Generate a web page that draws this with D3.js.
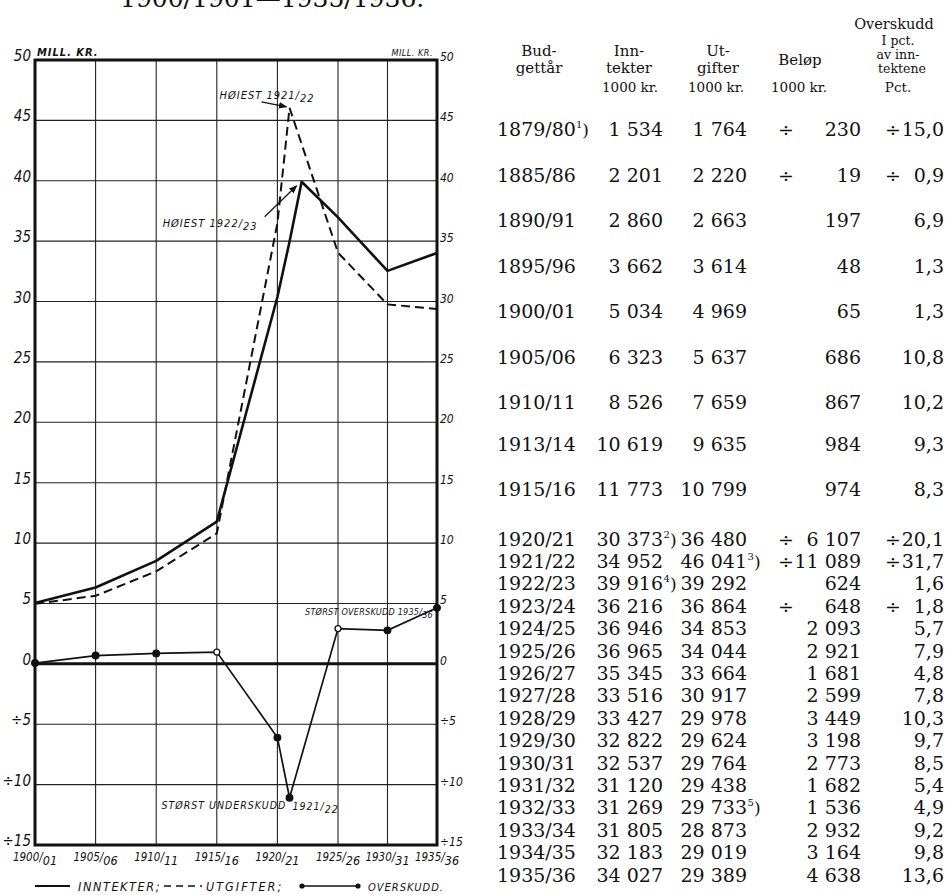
<!DOCTYPE html>
<html>
<head>
<meta charset="utf-8">
<script src="https://cdn.jsdelivr.net/npm/d3@7"></script>
<style>
  body { margin: 0; background: #fff; }
  svg { display: block; }
  .hand { font-family: "DejaVu Sans Condensed", "Liberation Sans Narrow", "DejaVu Sans", sans-serif; font-style: italic; fill: #111; }
  .tab { font-family: "DejaVu Serif", "Liberation Serif", serif; fill: #111; }
</style>
</head>
<body>
<svg id="chart" width="946" height="895"></svg>
<script>
// ---- table data (1000 kr.) ----
const budgetYears = ['1879/80', '1885/86', '1890/91', '1895/96', '1900/01', '1905/06', '1910/11', '1913/14',
  '1915/16', '1920/21', '1921/22', '1922/23', '1923/24', '1924/25', '1925/26', '1926/27', '1927/28',
  '1928/29', '1929/30', '1930/31', '1931/32', '1932/33', '1933/34', '1934/35', '1935/36'];
const inntekter = [1534, 2201, 2860, 3662, 5034, 6323, 8526, 10619, 11773, 30373, 34952, 39916, 36216,
  36946, 36965, 35345, 33516, 33427, 32822, 32537, 31120, 31269, 31805, 32183, 34027];
const utgifter = [1764, 2220, 2663, 3614, 4969, 5637, 7659, 9635, 10799, 36480, 46041, 39292, 36864,
  34853, 34044, 33664, 30917, 29978, 29624, 29764, 29438, 29733, 28873, 29019, 29389];
const overskudd = [-230, -19, 197, 48, 65, 686, 867, 984, 974, -6107, -11089, 624, -648, 2093, 2921,
  1681, 2599, 3449, 3198, 2773, 1682, 1536, 2932, 3164, 4638];
const overskuddPct = [-15.0, -0.9, 6.9, 1.3, 1.3, 10.8, 10.2, 9.3, 8.3, -20.1, -31.7, 1.6, -1.8, 5.7, 7.9,
  4.8, 7.8, 10.3, 9.7, 8.5, 5.4, 4.9, 9.2, 9.8, 13.6];
// footnote marks: [year, column, mark]
const footnotes = [['1879/80', 'year', '1'], ['1920/21', 'inn', '2'], ['1921/22', 'ut', '3'],
  ['1922/23', 'inn', '4'], ['1932/33', 'ut', '5']];

// ---- which budget years the drawn lines pass through ----
const inntekterPoints = ['1900/01', '1905/06', '1910/11', '1915/16', '1920/21', '1921/22', '1922/23', '1925/26', '1930/31', '1935/36'];
const utgifterPoints = ['1900/01', '1905/06', '1910/11', '1915/16', '1920/21', '1921/22', '1925/26', '1930/31', '1935/36'];
const overskuddPoints = ['1900/01', '1905/06', '1910/11', '1915/16', '1920/21', '1921/22', '1925/26', '1930/31', '1935/36'];
const openMarkers = ['1915/16', '1925/26'];

// ---- axis ticks ----
const xTicks = ['1900/01', '1905/06', '1910/11', '1915/16', '1920/21', '1925/26', '1930/31', '1935/36'];
const yTicks = [-15, -10, -5, 0, 5, 10, 15, 20, 25, 30, 35, 40, 45, 50];

const svg = d3.select('#chart');
svg.append('rect').attr('width', 946).attr('height', 895).attr('fill', '#fff');

const startYear = s => +s.slice(0, 4);
const idx = s => budgetYears.indexOf(s);
const mill = arr => s => arr[idx(s)] / 1000;

// the hand-drawn grid is a little narrower over the last ten years
const x = d3.scaleLinear().domain([1900, 1925, 1935]).range([35, 338, 437]);
const y = d3.scaleLinear().domain([-15, 50]).range([845, 60]);
const signed = v => (v < 0 ? '÷' : '') + Math.abs(v);

// arrow head
svg.append('defs').append('marker')
  .attr('id', 'arrow').attr('viewBox', '0 0 10 10').attr('refX', 9).attr('refY', 5)
  .attr('markerWidth', 7).attr('markerHeight', 7).attr('orient', 'auto')
  .append('path').attr('d', 'M0,1 L10,5 L0,9 Z').attr('fill', '#111');

// grid lines
const grid = svg.append('g').attr('stroke', '#222').attr('stroke-width', 1.1);
grid.selectAll('.hg').data(yTicks).enter().append('line')
  .attr('x1', x(1900)).attr('x2', x(1935))
  .attr('y1', d => y(d)).attr('y2', d => y(d));
grid.selectAll('.vg').data(xTicks).enter().append('line')
  .attr('x1', d => x(startYear(d))).attr('x2', d => x(startYear(d)))
  .attr('y1', y(50)).attr('y2', y(-15));

// frame and zero line
svg.append('rect')
  .attr('x', x(1900)).attr('y', y(50))
  .attr('width', x(1935) - x(1900)).attr('height', y(-15) - y(50))
  .attr('fill', 'none').attr('stroke', '#111').attr('stroke-width', 3);
svg.append('line')
  .attr('x1', x(1900)).attr('x2', x(1935)).attr('y1', y(0)).attr('y2', y(0))
  .attr('stroke', '#111').attr('stroke-width', 3);

// left and right tick labels
svg.append('g').selectAll('text').data(yTicks).enter().append('text')
  .attr('class', 'hand').attr('x', 31).attr('y', d => y(d) + 1)
  .attr('text-anchor', 'end').style('font-size', '15px')
  .text(signed);
svg.append('g').selectAll('text').data(yTicks).enter().append('text')
  .attr('class', 'hand').attr('x', x(1935) + 3).attr('y', d => y(d) + 1)
  .style('font-size', '12px')
  .text(signed);

svg.append('text').attr('class', 'hand').attr('x', 37).attr('y', 56)
  .style('font-size', '11px').style('letter-spacing', '1px').style('font-weight', 'bold')
  .text('MILL. KR.');
svg.append('text').attr('class', 'hand').attr('x', x(1935) - 4).attr('y', 56)
  .attr('text-anchor', 'end')
  .style('font-size', '9px').style('letter-spacing', '0.5px')
  .text('MILL. KR.');

// x tick labels, split as 1900/ + lowered 01
const xl = svg.append('g').selectAll('text').data(xTicks).enter().append('text')
  .attr('class', 'hand').attr('x', d => x(startYear(d))).attr('y', 861)
  .attr('text-anchor', 'middle').style('font-size', '11.5px');
xl.append('tspan').text(d => d.slice(0, 5));
xl.append('tspan').attr('dy', 4).style('font-size', '12.5px').text(d => d.slice(5));

// lines
const lineGen = arr => d3.line().x(d => x(startYear(d))).y(d => y(mill(arr)(d)));

svg.append('path').datum(inntekterPoints)
  .attr('d', lineGen(inntekter)).attr('fill', 'none')
  .attr('stroke', '#111').attr('stroke-width', 2.6).attr('stroke-linejoin', 'round');
svg.append('path').datum(utgifterPoints)
  .attr('d', lineGen(utgifter)).attr('fill', 'none')
  .attr('stroke', '#111').attr('stroke-width', 2).attr('stroke-dasharray', '9,5');
svg.append('path').datum(overskuddPoints)
  .attr('d', lineGen(overskudd)).attr('fill', 'none')
  .attr('stroke', '#111').attr('stroke-width', 1.7);
svg.append('g').selectAll('circle').data(overskuddPoints).enter().append('circle')
  .attr('cx', d => x(startYear(d))).attr('cy', d => y(mill(overskudd)(d)))
  .attr('r', d => openMarkers.includes(d) ? 3 : 3.3)
  .attr('fill', d => openMarkers.includes(d) ? '#fff' : '#111')
  .attr('stroke', '#111').attr('stroke-width', 1.3);

// annotations
const peakOut = [x(1921), y(mill(utgifter)('1921/22'))];
const peakIn = [x(1922), y(mill(inntekter)('1922/23'))];
const worst = [x(1921), y(mill(overskudd)('1921/22'))];
const best = [x(1935), y(mill(overskudd)('1935/36'))];

function fracLabel(px, py, main, sub, size, spacing) {
  const t = svg.append('text').attr('class', 'hand').attr('x', px).attr('y', py)
    .style('font-size', size + 'px').style('letter-spacing', (spacing || 1) + 'px');
  t.append('tspan').text(main);
  if (sub) t.append('tspan').attr('dy', 3).text(sub);
  return t;
}

fracLabel(peakOut[0] - 70, peakOut[1] - 9, 'HØIEST  1921/', '22', 11);
svg.append('line').attr('x1', peakOut[0] - 28).attr('y1', peakOut[1] - 6)
  .attr('x2', peakOut[0] - 3).attr('y2', peakOut[1] - 1)
  .attr('stroke', '#111').attr('stroke-width', 1.2).attr('marker-end', 'url(#arrow)');

fracLabel(peakIn[0] - 139, peakIn[1] + 45, 'HØIEST  1922/', '23', 11);
svg.append('line').attr('x1', peakIn[0] - 37).attr('y1', peakIn[1] + 35)
  .attr('x2', peakIn[0] - 5).attr('y2', peakIn[1] + 4)
  .attr('stroke', '#111').attr('stroke-width', 1.2).attr('marker-end', 'url(#arrow)');

fracLabel(x(1925) - 33, best[1] + 7, 'STØRST OVERSKUDD 1935/', '36', 9, 0.3)
  .attr('textLength', best[0] - 4 - (x(1925) - 33)).attr('lengthAdjust', 'spacing');
fracLabel(worst[0] - 128, worst[1] + 11, 'STØRST  UNDERSKUDD', null, 10.5);
fracLabel(worst[0] + 3, worst[1] + 12, '1921/', '22', 10.5);

// legend
const lg = svg.append('g');
lg.append('line').attr('x1', 35).attr('x2', 70).attr('y1', 886).attr('y2', 886)
  .attr('stroke', '#111').attr('stroke-width', 2.2);
lg.append('text').attr('class', 'hand').attr('x', 78).attr('y', 891)
  .style('font-size', '12.5px').style('letter-spacing', '1.6px').text('INNTEKTER;');
lg.append('line').attr('x1', 164).attr('x2', 202).attr('y1', 886).attr('y2', 886)
  .attr('stroke', '#111').attr('stroke-width', 1.6).attr('stroke-dasharray', '7,5');
lg.append('text').attr('class', 'hand').attr('x', 206).attr('y', 891)
  .style('font-size', '12.5px').style('letter-spacing', '2px').text('UTGIFTER;');
lg.append('line').attr('x1', 302).attr('x2', 358).attr('y1', 886).attr('y2', 886)
  .attr('stroke', '#111').attr('stroke-width', 1.4);
lg.selectAll('circle').data([302, 358]).enter().append('circle')
  .attr('cx', d => d).attr('cy', 886).attr('r', 2.6).attr('fill', '#111');
lg.append('text').attr('class', 'hand').attr('x', 368).attr('y', 891)
  .style('font-size', '11px').style('letter-spacing', '1px').text('OVERSKUDD.');

// cut-off title line at the very top
svg.append('text').attr('class', 'tab').attr('x', 120).attr('y', 7)
  .style('font-size', '25px').text('1900/1901—1935/1936.');

// ---- table ----
const col = { year: 497, inn: 663, ut: 747, sign: 786, bel: 861, psign: 893, pct: 944 };
const rowY = i => i <= 6 ? 129 + i * 45.5 : i <= 9 ? 402 + (i - 6) * 45.5 - (i === 9 ? 0 : 4) : 538.5 + (i - 9) * 22.4;
const fmtInt = v => {
  const s = String(Math.abs(v));
  return s.length > 3 ? s.slice(0, -3) + ' ' + s.slice(-3) : s;
};
const fmtPct = v => Math.abs(v).toFixed(1).replace('.', ',');

const head = svg.append('g').attr('class', 'tab').attr('text-anchor', 'middle').style('font-size', '15px');
const headLines = [
  [539, 56, 'Bud-', 15], [539, 73, 'gettår', 15],
  [629, 56, 'Inn-', 15], [629, 73, 'tekter', 15],
  [718, 56, 'Ut-', 15], [718, 73, 'gifter', 15],
  [800, 65, 'Beløp', 15],
  [894, 29, 'Overskudd', 14.5], [898, 45, 'I pct.', 12.5], [898, 59, 'av inn-', 12.5], [902, 73, 'tektene', 12.5]
];
headLines.forEach(h => head.append('text').attr('x', h[0]).attr('y', h[1])
  .style('font-size', h[3] + 'px').text(h[2]));
const unitLines = [[630, '1000 kr.'], [716, '1000 kr.'], [799, '1000 kr.'], [898, 'Pct.']];
unitLines.forEach(u => head.append('text').attr('x', u[0]).attr('y', 92)
  .style('font-size', '13.5px').text(u[1]));

const rows = svg.append('g').attr('class', 'tab').style('font-size', '19px')
  .selectAll('g').data(budgetYears).enter().append('g')
  .attr('transform', (d, i) => 'translate(0,' + (rowY(i) + 7) + ')');

const noteFor = (yr, c) => footnotes.find(f => f[0] === yr && f[1] === c);
function supMark(sel, mark) {
  sel.append('tspan').attr('dy', -8).style('font-size', '10px').text(mark);
  sel.append('tspan').attr('dy', 8).style('font-size', '17px').text(')');
}

rows.each(function (yr, i) {
  const g = d3.select(this);
  const yt = g.append('text').attr('x', col.year);
  yt.append('tspan').text(yr);
  const n0 = noteFor(yr, 'year');
  if (n0) supMark(yt, n0[2]);

  [['inn', inntekter], ['ut', utgifter]].forEach(([c, arr]) => {
    g.append('text').attr('x', col[c]).attr('text-anchor', 'end').text(fmtInt(arr[i]));
    const n = noteFor(yr, c);
    if (n) supMark(g.append('text').attr('x', col[c] + 0.5), n[2]);
  });

  if (overskudd[i] < 0) g.append('text').attr('x', col.sign).attr('text-anchor', 'middle').text('÷');
  g.append('text').attr('x', col.bel).attr('text-anchor', 'end').text(fmtInt(overskudd[i]));
  if (overskuddPct[i] < 0) g.append('text').attr('x', col.psign).attr('text-anchor', 'middle').text('÷');
  g.append('text').attr('x', col.pct).attr('text-anchor', 'end').text(fmtPct(overskuddPct[i]));
});
</script>
</body>
</html>
